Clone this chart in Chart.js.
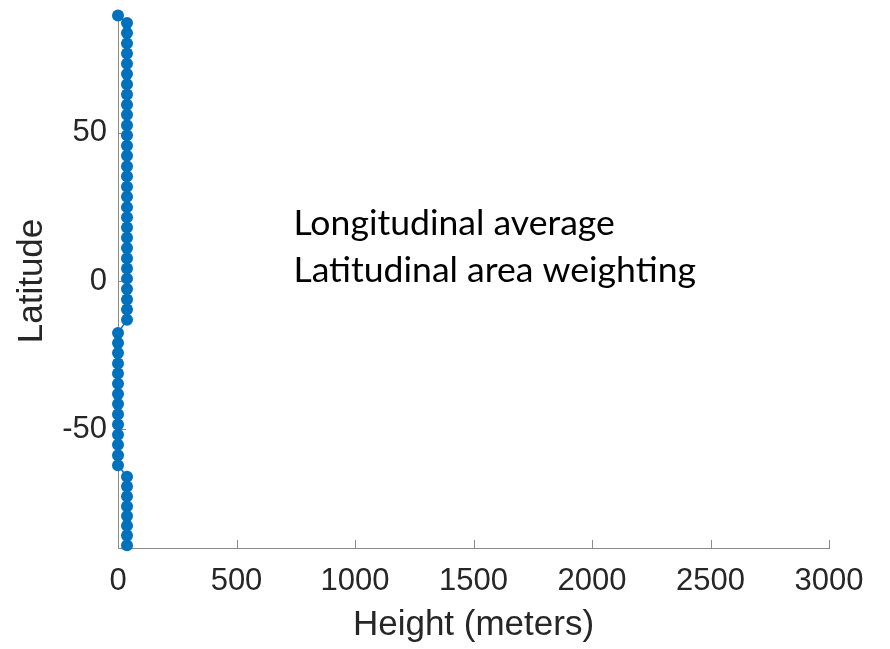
<!DOCTYPE html>
<html>
<head>
<meta charset="utf-8">
<script src="https://cdn.jsdelivr.net/npm/chart.js@4/dist/chart.umd.min.js"></script>
<style>
  body { margin: 0; background: #fff; }
  #wrap { width: 890px; height: 649px; }
</style>
</head>
<body>
<div id="wrap"><canvas id="heightChart"></canvas></div>
<script>
// values, top of the profile first
const latitudes = [89.5,
    87, 83.6, 80.1, 76.7, 73.2, 69.8, 66.3, 62.9, 59.4, 56, 52.5, 49.1, 45.6, 42.2, 38.7,
    35.3, 31.8, 28.4, 24.9, 21.5, 18, 14.6, 11.1, 7.7, 4.2, 0.8, -2.7, -6.2, -9.6, -13.1,
    -17.5, -20.9, -24.3, -27.8, -31.2, -34.6, -38.1, -41.5, -44.9, -48.4, -51.8, -55.2, -58.7, -62.1,
    -66, -69.3, -72.6, -75.9, -79.2, -82.5, -85.8, -89.1];
const heights = [0,
    38, 38, 38, 38, 38, 38, 38, 38, 38, 38, 38, 38, 38, 38, 38,
    38, 38, 38, 38, 38, 38, 38, 38, 38, 38, 38, 38, 38, 38, 38,
    0, 0, 0, 0, 0, 0, 0, 0, 0, 0, 0, 0, 0, 0,
    38, 38, 38, 38, 38, 38, 38, 38];
const xTicks = [0, 500, 1000, 1500, 2000, 2500, 3000];
const yTicks = [-50, 0, 50];
const noteLines = ["Longitudinal average", "Latitudinal area weighting"];

const blue = "rgb(0,114,189)";
const axisGrey = "#8a8a8a";
const textDark = "#262626";
const sans = "'Liberation Sans', Arial, sans-serif";

// MATLAB style ticks point into the plot
const inwardTicks = {
    id: "inwardTicks",
    beforeDatasetsDraw(chart) {
        const ctx = chart.ctx;
        const x = chart.scales.x, y = chart.scales.y;
        ctx.save();
        ctx.strokeStyle = axisGrey;
        ctx.lineWidth = 1;
        ctx.beginPath();
        xTicks.forEach(v => {
            const px = Math.round(x.getPixelForValue(v)) + 0.5;
            ctx.moveTo(px, y.bottom);
            ctx.lineTo(px, y.bottom - 8);
        });
        yTicks.forEach(v => {
            const py = Math.round(y.getPixelForValue(v)) + 0.5;
            ctx.moveTo(x.left, py);
            ctx.lineTo(x.left + 8, py);
        });
        ctx.stroke();
        ctx.restore();
    }
};

const noteText = {
    id: "noteText",
    afterDraw(chart) {
        const ctx = chart.ctx;
        const x = chart.scales.x, y = chart.scales.y;
        ctx.save();
        ctx.fillStyle = "#000";
        ctx.textAlign = "left";
        ctx.textBaseline = "alphabetic";
        let size = 32;
        ctx.font = size + "px Lato, sans-serif";
        size = size * 403 / ctx.measureText(noteLines[1]).width;
        ctx.font = size.toFixed(1) + "px Lato, sans-serif";
        const left = x.getPixelForValue(740);
        ctx.fillText(noteLines[0], left, y.getPixelForValue(15.5));
        ctx.fillText(noteLines[1], left, y.getPixelForValue(-0.4));
        ctx.restore();
    }
};

new Chart(document.getElementById("heightChart"), {
    type: "scatter",
    data: {
        datasets: [{
            data: heights.map((h, i) => ({ x: h, y: latitudes[i] })),
            showLine: true,
            borderColor: blue,
            borderWidth: 1.5,
            backgroundColor: blue,
            pointRadius: 6,
            pointBorderWidth: 0,
            clip: false
        }]
    },
    plugins: [inwardTicks, noteText],
    options: {
        responsive: true,
        maintainAspectRatio: false,
        animation: false,
        layout: { padding: { top: 14, right: 61, left: 0, bottom: 0 } },
        plugins: {
            legend: { display: false },
            tooltip: { enabled: false }
        },
        scales: {
            x: {
                type: "linear",
                min: 0,
                max: 3000,
                afterBuildTicks: s => { s.ticks = xTicks.map(v => ({ value: v })); },
                afterFit: s => { s.height = 101; s.paddingLeft = 0; s.paddingRight = 0; },
                grid: { display: false, drawTicks: false },
                border: { display: true, color: axisGrey, width: 1 },
                ticks: { padding: 15, color: textDark, font: { family: sans, size: 31 }, maxRotation: 0,
                         callback: v => String(v) },
                title: { display: true, text: "Height (meters)", color: textDark,
                         font: { family: sans, size: 35 }, padding: { top: 0, bottom: 3 } }
            },
            y: {
                type: "linear",
                min: -90,
                max: 90,
                afterBuildTicks: s => { s.ticks = yTicks.map(v => ({ value: v })); },
                afterFit: s => { s.width = 118; s.paddingTop = 0; s.paddingBottom = 0; },
                grid: { display: false, drawTicks: false },
                border: { display: true, color: axisGrey, width: 1 },
                ticks: { padding: 11, color: textDark, font: { family: sans, size: 31 },
                         callback: v => String(v) },
                title: { display: true, text: "Latitude", color: textDark,
                         font: { family: sans, size: 35 }, padding: { top: 11, bottom: 0 } }
            }
        }
    }
});
</script>
</body>
</html>
